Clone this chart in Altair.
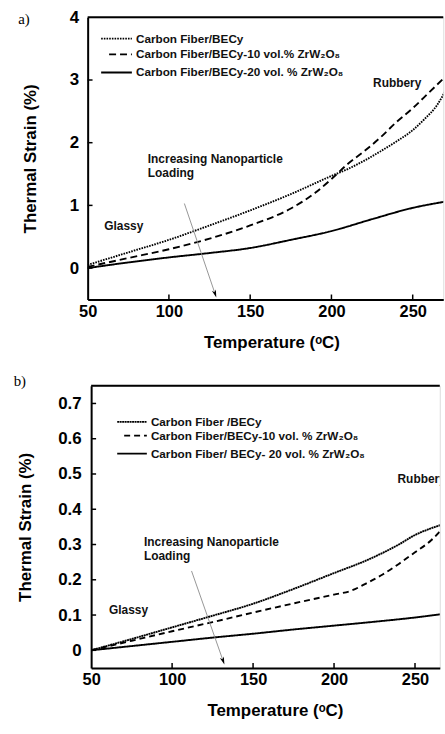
import altair as alt
import pandas as pd

# ---------------- data: panel (a) ----------------
temp_a_neat = [50, 75, 100, 125, 150, 175, 200, 210, 220, 230, 240, 250, 257, 265, 270]
strain_a_neat = [0.05, 0.25, 0.45, 0.68, 0.92, 1.18, 1.47, 1.58, 1.71, 1.86, 2.02, 2.20, 2.37, 2.60, 2.82]

temp_a_10 = [50, 75, 100, 125, 150, 175, 190, 200, 210, 220, 230, 240, 250, 260, 270]
strain_a_10 = [0.02, 0.16, 0.30, 0.47, 0.68, 0.95, 1.20, 1.42, 1.66, 1.86, 2.08, 2.33, 2.55, 2.80, 3.05]

temp_a_20 = [50, 75, 100, 125, 150, 175, 200, 225, 250, 270]
strain_a_20 = [0.0, 0.09, 0.17, 0.24, 0.32, 0.45, 0.59, 0.78, 0.96, 1.06]

labels_a = [
    "Carbon Fiber/BECy",
    "Carbon Fiber/BECy-10 vol.% ZrW\u2082O\u2088",
    "Carbon Fiber/BECy-20 vol. % ZrW\u2082O\u2088",
]

# ---------------- data: panel (b) ----------------
temp_b_neat = [50, 75, 100, 125, 150, 175, 200, 220, 240, 250, 260, 267]
strain_b_neat = [0.0, 0.032, 0.065, 0.098, 0.132, 0.174, 0.219, 0.255, 0.300, 0.327, 0.346, 0.357]

temp_b_10 = [50, 75, 100, 125, 150, 175, 200, 210, 220, 230, 240, 250, 260, 267]
strain_b_10 = [0.0, 0.027, 0.054, 0.080, 0.107, 0.133, 0.158, 0.168, 0.190, 0.215, 0.245, 0.278, 0.312, 0.345]

temp_b_20 = [50, 75, 100, 125, 150, 175, 200, 225, 250, 267]
strain_b_20 = [0.0, 0.012, 0.024, 0.036, 0.047, 0.059, 0.070, 0.081, 0.093, 0.103]

labels_b = [
    "Carbon Fiber /BECy",
    "Carbon Fiber/BECy-10 vol. % ZrW\u2082O\u2088",
    "Carbon Fiber/ BECy- 20 vol. % ZrW\u2082O\u2088",
]

x_ticks = [50, 100, 150, 200, 250]
y_ticks_a = [0, 1, 2, 3, 4]
y_ticks_b = [0, 0.1, 0.2, 0.3, 0.4, 0.5, 0.6, 0.7]

FONT = "Liberation Sans"
SERIF = "Liberation Serif"
ARROW_HEAD = "M0,-1L0.55,1L0,0.45L-0.55,1Z"


def series_frame(temps, strains):
    return [pd.DataFrame({"temp": t, "strain": s}) for t, s in zip(temps, strains)]


def one_row(**kw):
    return pd.DataFrame([kw]) if kw else pd.DataFrame({"k": [0]})


def panel(frames, labels, dashes, xdom, ydom, yticks, ylabel_expr, width, height,
          tag, tag_x, tag_y, ylab_pad, ytitle_x, tick_dx, tick_dy,
          key_rows, key_x, key_dash_x, key_text_x, notes, arrow, arrow_angle):
    xs = alt.Scale(domain=xdom, nice=False, zero=False)
    ys = alt.Scale(domain=ydom, nice=False, zero=False)

    x_axis = alt.Axis(
        values=x_ticks, format="d", title="Temperature (\u1d52C)",
        ticks=False, grid=False, domain=True, domainColor="black", domainWidth=2,
        labelFont=FONT, labelFontSize=16.5, labelFontWeight="bold", labelColor="black",
        labelPadding=4, labelFlush=False, labelOverlap=False,
        titleFont=FONT, titleFontSize=17, titleFontWeight="bold", titleColor="black",
        titleX=185, titleY=35, titleBaseline="top",
    )
    y_axis = alt.Axis(
        values=yticks, labelExpr=ylabel_expr, title="Thermal Strain (%)",
        ticks=False, grid=False, domain=True, domainColor="black", domainWidth=2,
        labelFont=FONT, labelFontSize=17, labelFontWeight="bold", labelColor="black",
        labelPadding=ylab_pad, labelFlush=False, labelOverlap=False,
        titleFont=FONT, titleFontSize=17, titleFontWeight="bold", titleColor="black",
        titleX=ytitle_x, titleBaseline="bottom",
    )

    layers = []
    for i, (df, dash) in enumerate(zip(frames, dashes)):
        if i == 0:
            enc = dict(x=alt.X("temp:Q", scale=xs, axis=x_axis),
                       y=alt.Y("strain:Q", scale=ys, axis=y_axis))
        else:
            enc = dict(x=alt.X("temp:Q", scale=xs), y=alt.Y("strain:Q", scale=ys))
        layers.append(
            alt.Chart(df).mark_line(color="black", strokeWidth=1.9, clip=True,
                                    interpolate="monotone", strokeDash=dash).encode(**enc))

    # frame line along the top of the plot
    layers.append(alt.Chart(one_row()).mark_rule(color="black", strokeWidth=2).encode(
        y=alt.datum(ydom[1])))

    # short inward ticks on both axes
    inner_y = [v for v in yticks if v < ydom[1]]
    layers.append(alt.Chart(pd.DataFrame({"v": inner_y})).mark_rule(
        color="black", strokeWidth=1.5).encode(
        y="v:Q", x=alt.datum(xdom[0]), x2=alt.datum(xdom[0] + tick_dx)))
    layers.append(alt.Chart(pd.DataFrame({"v": x_ticks[1:]})).mark_rule(
        color="black", strokeWidth=1.5).encode(
        x="v:Q", y=alt.datum(ydom[0]), y2=alt.datum(ydom[0] + tick_dy)))

    # key: line sample plus label for each series
    for lab, dash, ky, kx0 in zip(labels, dashes, key_rows, [key_x[0], key_dash_x, key_x[0]]):
        layers.append(alt.Chart(one_row()).mark_rule(
            color="black", strokeWidth=1.8, strokeDash=dash).encode(
            x=alt.datum(kx0), x2=alt.datum(key_x[1]), y=alt.datum(ky)))
        layers.append(alt.Chart(one_row(t=lab)).mark_text(
            font=FONT, fontSize=11.8, fontWeight="bold", color="#111",
            align="left", baseline="middle").encode(
            x=alt.datum(key_text_x), y=alt.datum(ky), text="t:N"))

    # region notes (cut at the plot edge like the curves)
    for text, tx, ty in notes:
        layers.append(alt.Chart(one_row(t=text)).mark_text(
            font=FONT, fontSize=12, fontWeight="bold", color="#111",
            align="left", baseline="middle", clip=True).encode(
            x=alt.datum(tx), y=alt.datum(ty), text="t:N"))

    # trend arrow
    (ax1, ay1), (ax2, ay2) = arrow
    layers.append(alt.Chart(one_row()).mark_rule(color="#8a8a8a", strokeWidth=0.9).encode(
        x=alt.datum(ax1), y=alt.datum(ay1), x2=alt.datum(ax2), y2=alt.datum(ay2)))
    layers.append(alt.Chart(one_row()).mark_point(
        shape=ARROW_HEAD, filled=True, color="black", size=60, angle=arrow_angle,
        opacity=1).encode(x=alt.datum(ax2), y=alt.datum(ay2)))

    # panel tag
    layers.append(alt.Chart(one_row(t=tag)).mark_text(
        font=SERIF, fontSize=15, color="black", align="left", baseline="middle").encode(
        x=alt.value(tag_x), y=alt.value(tag_y), text="t:N"))

    return alt.layer(*layers).properties(width=width, height=height)


frames_a = series_frame([temp_a_neat, temp_a_10, temp_a_20],
                        [strain_a_neat, strain_a_10, strain_a_20])
frames_b = series_frame([temp_b_neat, temp_b_10, temp_b_20],
                        [strain_b_neat, strain_b_10, strain_b_20])

panel_a = panel(
    frames_a, labels_a, [[1.6, 1.1], [7, 4], [1, 0]],
    [50, 268.8], [-0.5, 4], y_ticks_a, "format(datum.value, 'd')",
    358, 284, "a)", -70, 1.5, 9, -49, 3.0, 0.078,
    [3.66, 3.41, 3.12], (58.3, 77.2), 63.2, 79.7,
    [("Rubbery", 225.6, 2.95), ("Increasing Nanoparticle", 87, 1.74),
     ("Loading", 87, 1.52), ("Glassy", 60.2, 0.67)],
    ((109.5, 1.03), (128.4, -0.41)), 161.4,
)

panel_b = panel(
    frames_b, labels_b, [[2, 0.5], [6, 4], [1, 0]],
    [50, 265.3], [-0.05, 0.75], y_ticks_b,
    "datum.value == 0 ? '0' : format(datum.value, '.1f')",
    351, 284, "b)", -78, -4.7, 10, -57, 3.06, 0.014,
    [0.648, 0.609, 0.558], (66.1, 84.4), 70.4, 86.9,
    [("Rubbery", 239.2, 0.485), ("Increasing Nanoparticle", 82.6, 0.308),
     ("Loading", 82.6, 0.267), ("Glassy", 61, 0.113)],
    ((112, 0.225), (131.5, -0.03)), 160.6,
)

# one column; each panel centred on its own bounds so the two plot origins differ
chart = alt.vconcat(panel_a, panel_b, spacing=22, center=True).resolve_scale(
    x="independent", y="independent"
).properties(
    padding={"left": 13, "top": 5, "right": 0, "bottom": 0},
).configure_view(stroke=None).configure(background="white")

chart.save("out.html", embed_options={"renderer": "svg", "actions": False})
